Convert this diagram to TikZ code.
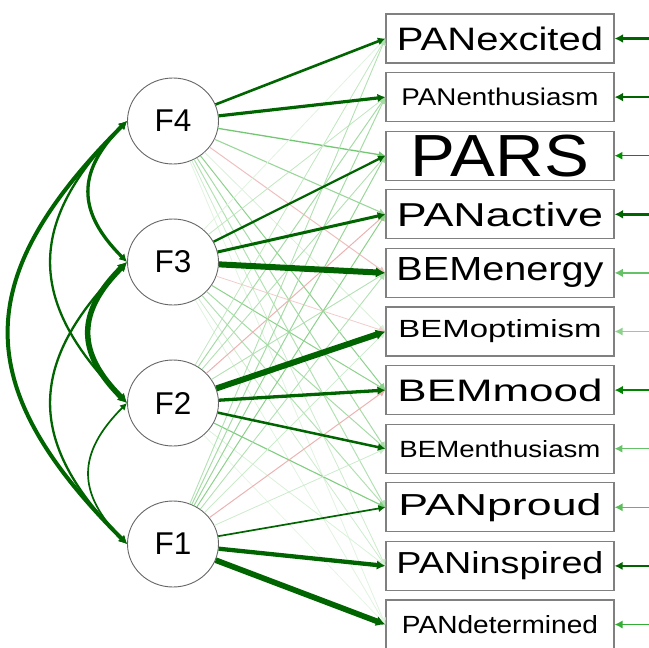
\documentclass[tikz,border=0pt]{standalone}
\usepackage{fontspec}
\setmainfont{Liberation Sans}
\usepackage{graphicx}
\usetikzlibrary{arrows.meta,shapes.geometric}
\definecolor{dg}{RGB}{0,100,0}
\definecolor{pos}{RGB}{0,153,0}
\definecolor{neg}{RGB}{191,0,0}
\tikzset{
 fac/.style={ellipse, draw=black!60, line width=0.9pt, fill=white, minimum width=91pt, minimum height=86pt, inner sep=0pt, font=\fontsize{31.5}{32}\selectfont},
 ind/.style={rectangle, draw=black!50, line width=1.2pt, fill=white, minimum width=228pt, minimum height=49pt, inner sep=0pt},
 tip/.style={-{Latex[length=6pt 0.6, width=6pt 0.8]}},
 rtip/.style={-{Latex[length=7pt 0.6, width=7pt 0.8]}},
 cov/.style={{Latex[length=6pt 0.6, width=6pt 0.8]}-{Latex[length=6pt 0.6, width=6pt 0.8]}, color=dg},
}
\newcommand{\lblbox}[3]{\resizebox{#1pt}{#2pt}{#3}}
\begin{document}
\begin{tikzpicture}[x=1pt,y=1pt]
\useasboundingbox (0,0) rectangle (649,-648);
% factors
\node[fac] (f4) at (173,-121) {F4};
\node[fac] (f3) at (173,-262) {F3};
\node[fac] (f2) at (173,-403) {F2};
\node[fac] (f1) at (173,-544) {F1};
% indicators
\node[ind] (b0) at (500,-38.5) {\lblbox{206}{23.5}{PANexcited}};
\node[ind] (b1) at (500,-97.1) {\lblbox{197}{17.5}{PANenthusiasm}};
\node[ind] (b2) at (500,-155.7) {\lblbox{178}{41.5}{PARS}};
\node[ind] (b3) at (500,-214.3) {\lblbox{206}{24}{PANactive}};
\node[ind] (b4) at (500,-272.9) {\lblbox{207}{23}{BEMenergy}};
\node[ind] (b5) at (500,-331.5) {\lblbox{203}{18}{BEMoptimism}};
\node[ind] (b6) at (500,-390.1) {\lblbox{205}{22.5}{BEMmood}};
\node[ind] (b7) at (500,-448.7) {\lblbox{201}{17}{BEMenthusiasm}};
\node[ind] (b8) at (500,-507.3) {\lblbox{203}{22}{PANproud}};
\node[ind] (b9) at (500,-565.9) {\lblbox{207}{22}{PANinspired}};
\node[ind] (b10) at (500,-624.5) {\lblbox{196}{18}{PANdetermined}};
% residual tails
\foreach \i/\y in {0/-38.5,1/-97.1,2/-155.7,3/-214.3,4/-272.9,5/-331.5,6/-390.1,7/-448.7,8/-507.3,9/-565.9,10/-624.5}
  \coordinate (r\i) at (655,\y);
\foreach \i/\c/\w in {0/dg/2.5,1/dg/2.5,2/pos!85!dg/1.2,3/dg/2.5,4/pos!60!white/2,5/pos!45!white/1.5,6/pos!60!dg/2,7/pos!60!white/1.3,8/pos!65!white/1.5,9/dg/1.5,10/pos!80!white/1.5}
  \draw[rtip, color=\c, line width=\w pt] (r\i) -- (b\i.east);
% weak cross-loadings
\foreach \f/\b/\c/\w in {
  f4/b2/pos!55!white/1.3, f4/b3/pos!40!white/1.1, f4/b4/neg!25!white/1, f4/b5/pos!15!white/0.8,
  f4/b6/pos!45!white/1, f4/b7/pos!35!white/1, f4/b8/pos!30!white/1, f4/b9/pos!20!white/0.8, f4/b10/pos!12!white/0.8,
  f3/b0/pos!12!white/0.8, f3/b1/pos!25!white/0.8, f3/b5/neg!20!white/0.8, f3/b6/pos!45!white/1,
  f3/b7/pos!35!white/1, f3/b8/pos!30!white/1, f3/b9/pos!20!white/0.8, f3/b10/pos!12!white/0.8,
  f2/b0/pos!25!white/0.8, f2/b1/pos!35!white/1, f2/b2/pos!30!white/0.9, f2/b3/neg!30!white/1,
  f2/b4/pos!30!white/0.9, f2/b8/pos!50!white/1.1, f2/b9/pos!15!white/0.8, f2/b10/pos!10!white/0.8,
  f1/b0/pos!30!white/0.9, f1/b1/pos!35!white/1, f1/b2/pos!40!white/1, f1/b3/pos!45!white/1,
  f1/b4/pos!30!white/0.9, f1/b5/pos!20!white/0.8, f1/b6/neg!30!white/1, f1/b7/pos!20!white/0.8}
  \draw[tip, color=\c, line width=\w pt] (\f) -- (\b.west);
% main loadings
\foreach \f/\b/\w in {f4/b0/2.6, f4/b1/3.2, f3/b2/2.3, f3/b3/3, f3/b4/6, f2/b5/6, f2/b6/3.3, f2/b7/2.5, f1/b8/1.7, f1/b9/4.3, f1/b10/5.7}
  \draw[tip, color=dg, line width=\w pt] (\f) -- (\b.west);
% covariances
\draw[cov, line width=3.3pt] (f4.west) to[out=225,in=135,looseness=1.3] (f3.west);
\draw[cov, line width=2.3pt] (f4.west) to[out=225,in=135,looseness=1.3] (f2.west);
\draw[cov, line width=4pt] (f4.west) to[out=225,in=135,looseness=1.35] (f1.west);
\draw[cov, line width=5.5pt] (f3.west) to[out=225,in=135,looseness=1.3] (f2.west);
\draw[cov, line width=2.3pt] (f3.west) to[out=225,in=135,looseness=1.3] (f1.west);
\draw[cov, line width=1.7pt] (f2.west) to[out=225,in=135,looseness=1.3] (f1.west);
\end{tikzpicture}
\end{document}
